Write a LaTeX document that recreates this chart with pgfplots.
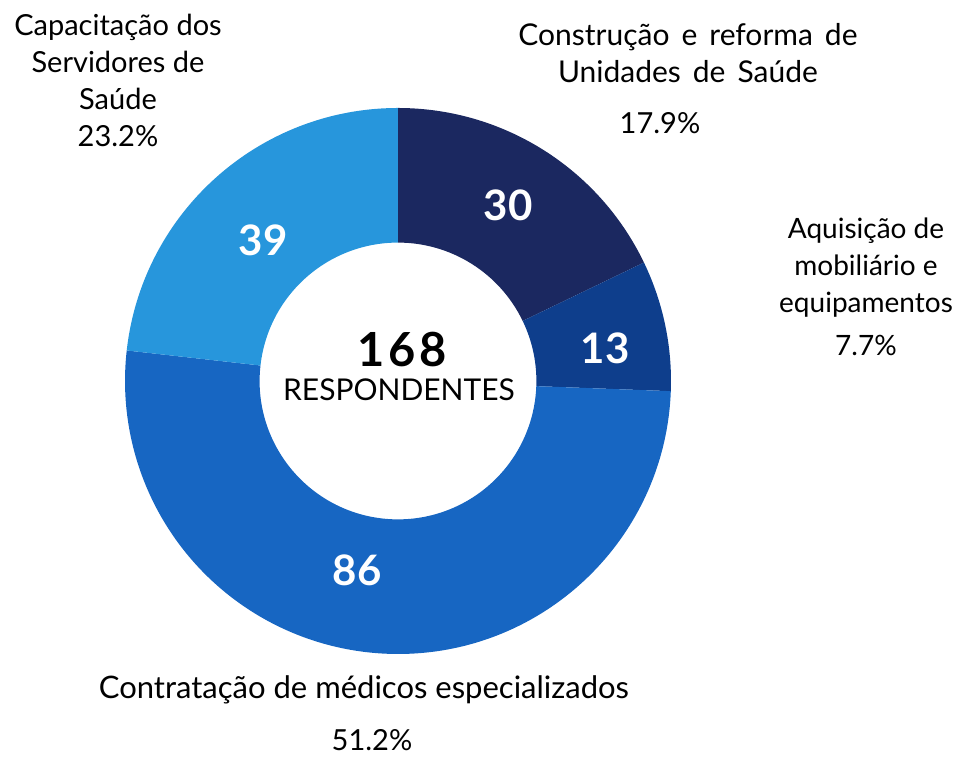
\documentclass[border=0pt]{standalone}
\usepackage{pgfplots}
\pgfplotsset{compat=1.18}
\usepackage{fontspec}
\setmainfont{Lato}
\definecolor{cA}{HTML}{1B2860}
\definecolor{cB}{HTML}{0E3E8C}
\definecolor{cC}{HTML}{1766C2}
\definecolor{cD}{HTML}{2796DC}
% values (counts)
\def\vA{30}\def\vB{13}\def\vC{86}\def\vD{39}\def\vT{168}
\pgfmathsetmacro\aA{90}
\pgfmathsetmacro\aB{\aA-\vA/\vT*360}
\pgfmathsetmacro\aC{\aB-\vB/\vT*360}
\pgfmathsetmacro\aD{\aC-\vC/\vT*360}
\pgfmathsetmacro\aE{\aD-\vD/\vT*360}
\newcommand\seg[3]{\fill[#1] ([shift={(#2:136.5pt)}]axis cs:398,372) arc[start angle=#2,end angle=#3,radius=136.5pt] -- ([shift={(#3:69.2pt)}]axis cs:398,372) arc[start angle=#3,end angle=#2,radius=69.2pt] -- cycle;}
\newcommand\ws{\spaceskip=6pt plus 1pt\relax}
\begin{document}
\begin{tikzpicture}
\begin{axis}[x=0.5pt,y=0.5pt,xmin=0,xmax=975,ymin=0,ymax=753,hide axis,clip=false,scale only axis]
\path (axis cs:0,0) rectangle (axis cs:975,753);
\seg{cA}{\aA}{\aB}
\seg{cB}{\aB}{\aC}
\seg{cC}{\aC}{\aD}
\seg{cD}{\aD}{\aE}
\tikzset{wl/.style={text=white,font=\fontsize{21}{24}\selectfont\bfseries},
 ol/.style={align=center,font=\fontsize{14.5}{18.5}\selectfont}}
\node[wl] at (axis cs:508,548) {30};
\node[wl] at (axis cs:605,405) {13};
\node[wl] at (axis cs:263,513) {39};
\node[wl] at (axis cs:357,183) {86};
\node[font=\fontsize{23.5}{26}\selectfont\bfseries\addfontfeature{LetterSpace=8}] at (axis cs:402,403) {168};
\node[font=\fontsize{15}{18}\selectfont] at (axis cs:399,363) {RESPONDENTES};
\node[ol] at (axis cs:118,673) {Capacitação dos\\Servidores de\\Saúde\\23.2\%};
\node[ol,font=\fontsize{15}{18.5}\selectfont] at (axis cs:688,700) {\ws Construção e reforma de\\\ws Unidades de Saúde};
\node[ol] at (axis cs:660,630) {17.9\%};
\node[ol,font=\fontsize{14}{18.5}\selectfont] at (axis cs:866,466) {Aquisição de\\mobiliário e\\equipamentos\\[3pt]7.7\%};
\node[ol,font=\fontsize{15.5}{18.5}\selectfont] at (axis cs:364,63) {Contratação de médicos especializados};
\node[ol] at (axis cs:372,13) {51.2\%};
\end{axis}
\end{tikzpicture}
\end{document}
